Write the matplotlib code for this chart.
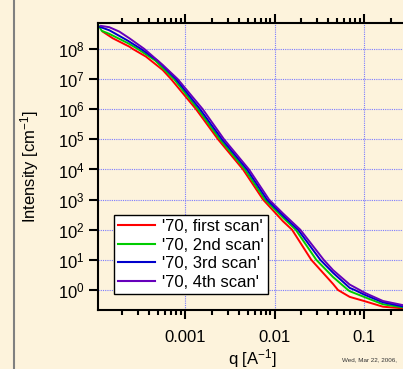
import numpy as np
import matplotlib
matplotlib.use("Agg")
import matplotlib.pyplot as plt
from matplotlib.lines import Line2D
from matplotlib.ticker import FixedLocator, FuncFormatter, LogLocator, NullLocator

plt.rcParams['font.family'] = ['Liberation Sans', 'DejaVu Sans']
plt.rcParams['mathtext.default'] = 'regular'

# values, as log10(q) and log10(I)
red_logq = [-3.920, -3.808, -3.622, -3.584, -3.436, -3.249, -3.156, -2.877, -2.631, -2.352,
            -2.128, -1.905, -1.804, -1.589, -1.346, -1.291, -1.160, -1.0, -0.788, -0.56]
red_logI = [8.575, 8.355, 8.076, 8.0, 7.744, 7.30, 7.0, 6.0, 5.0, 4.0,
            3.0, 2.28, 2.0, 1.0, 0.2, 0.0, -0.229, -0.365, -0.555, -0.61]

green_logq = [-3.983, -3.93, -3.846, -3.637, -3.528, -3.335, -3.123, -2.855, -2.609, -2.330,
              -2.106, -1.905, -1.763, -1.533, -1.346, -1.179, -1.160, -1.0, -0.788, -0.56]
green_logI = [8.86, 8.60, 8.50, 8.19, 8.0, 7.62, 7.0, 6.0, 5.0, 4.0,
              3.0, 2.40, 2.0, 1.0, 0.43, 0.0, -0.04, -0.229, -0.475, -0.58]

blue_logq = [-3.95, -3.846, -3.637, -3.492, -3.302, -3.101, -2.832, -2.587, -2.307,
             -2.084, -1.905, -1.737, -1.488, -1.346, -1.160, -1.104, -1.0, -0.788, -0.56]
blue_logI = [8.73, 8.62, 8.27, 8.0, 7.60, 7.0, 6.0, 5.0, 4.0,
             3.0, 2.47, 2.0, 1.0, 0.57, 0.07, 0.0, -0.15, -0.41, -0.55]

purple_logq = [-3.939, -3.846, -3.734, -3.622, -3.455, -3.249, -3.082, -2.802, -2.564, -2.285,
               -2.061, -1.905, -1.712, -1.450, -1.346, -1.160, -1.048, -1.0, -0.788, -0.56]
purple_logI = [8.764, 8.721, 8.575, 8.355, 8.0, 7.468, 7.0, 6.0, 5.0, 4.0,
               3.0, 2.54, 2.0, 1.0, 0.66, 0.18, 0.0, -0.083, -0.365, -0.505]

labels = ["'70, first scan'", "'70, 2nd scan'", "'70, 3rd scan'", "'70, 4th scan'"]
colors = ['#ff0000', '#00cc00', '#0000cc', '#6600bb']

xticks = [0.001, 0.01, 0.1]
xticklabels = ['0.001', '0.01', '0.1']

bg = '#fdf3dc'
fig = plt.figure(figsize=(4.03, 3.69), dpi=100, facecolor=bg)
ax = fig.add_axes([98 / 403, 59 / 369, 308 / 403, 287 / 369], facecolor=bg)

series = [(red_logq, red_logI), (green_logq, green_logI),
          (blue_logq, blue_logI), (purple_logq, purple_logI)]
for (lq, li), c, lab in zip(series, colors, labels):
    ax.plot(10 ** np.array(lq), 10 ** np.array(li), color=c, lw=1.4, label=lab,
            solid_joinstyle='round')

ax.set_xscale('log')
ax.set_yscale('log')
ax.set_xlim(10 ** -3.972, 10 ** -0.531)
ax.set_ylim(10 ** -0.664, 10 ** 8.86)

ax.xaxis.set_major_locator(FixedLocator(xticks))
ax.xaxis.set_major_formatter(FuncFormatter(
    lambda v, p: xticklabels[int(np.argmin([abs(np.log10(t / v)) for t in xticks]))]))
ax.xaxis.set_minor_locator(LogLocator(base=10, subs=np.arange(2, 10), numticks=20))
ax.yaxis.set_major_locator(FixedLocator([10.0 ** k for k in range(0, 9)]))
ax.yaxis.set_major_formatter(FuncFormatter(lambda v, p: '$10^{%d}$' % round(np.log10(v))))
ax.yaxis.set_minor_locator(NullLocator())

ax.tick_params(axis='x', which='major', direction='out', length=6.5, width=1.5,
               top=True, labelsize=12, pad=8)
ax.tick_params(axis='x', which='minor', direction='out', length=3.6, width=1.5, top=True)
ax.tick_params(axis='y', which='major', direction='out', length=6.5, width=1.5,
               labelsize=12, pad=3)

for s in ['left', 'bottom', 'top']:
    ax.spines[s].set_linewidth(1.5)
ax.spines['right'].set_visible(False)

ax.grid(True, which='major', color='#7a7aff', linestyle=(0, (1, 1)), lw=0.8)
ax.set_axisbelow(True)

ax.set_xlabel('q [A$^{-1}$]', fontsize=12)
ax.xaxis.set_label_coords(0.5, -0.13)
ax.xaxis.label.set_va('top')
ax.set_ylabel('Intensity [cm$^{-1}$]', fontsize=12)
ax.yaxis.set_label_coords(-0.221, 0.5)
ax.yaxis.label.set_va('center')

leg = ax.legend(loc='lower left', bbox_to_anchor=(16 / 308, 16 / 287), borderaxespad=0,
                fontsize=12, fancybox=False, framealpha=1, edgecolor='black',
                handlelength=2.2, handletextpad=0.45, labelspacing=0.22, borderpad=0.25)
leg.get_frame().set_linewidth(1.0)
for h in leg.get_lines():
    h.set_linewidth(1.5)

fig.add_artist(Line2D([14 / 403, 14 / 403], [0, 1], color='#808080', lw=1.5))
fig.text(342 / 403, 8 / 369, 'Wed, Mar 22, 2006,', fontsize=4.5, color='#333333')

fig.savefig('out.png', dpi=100, facecolor=bg)
